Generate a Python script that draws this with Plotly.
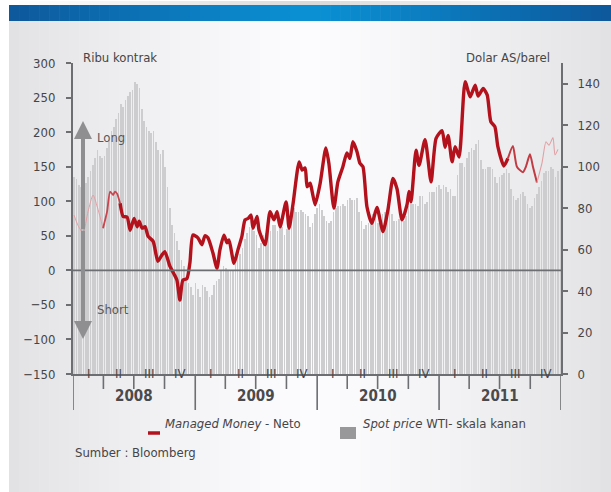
import plotly.graph_objects as go
import pandas as pd

# ---------------- DATA ----------------
# Weekly WTI spot price (USD/barrel), right axis
wti_2008 = [95, 94, 91, 90, 91, 92, 95, 98, 101, 104, 108, 105, 104, 105, 109, 113, 117,
            119, 123, 126, 130, 129, 132, 134, 136, 137, 141, 140, 138, 128, 122, 119, 117,
            116, 117, 112, 108, 106, 108, 100, 90, 80, 72, 68, 64, 60, 55, 52, 46, 44, 42, 38]
wti_2009 = [44, 41, 37, 43, 42, 40, 37, 38, 43, 45, 46, 50, 52, 51, 50, 50, 50, 53, 57, 58,
            61, 65, 68, 71, 70, 69, 67, 61, 63, 67, 68, 70, 69, 72, 72, 69, 71, 71, 67, 70,
            72, 77, 80, 78, 78, 79, 78, 77, 76, 71, 73, 77]
wti_2010 = [80, 82, 79, 76, 74, 73, 74, 78, 80, 81, 81, 82, 81, 84, 85, 84, 84, 85, 78, 74,
            70, 72, 73, 74, 77, 78, 73, 76, 77, 78, 79, 81, 77, 74, 74, 75, 76, 74, 76, 81,
            82, 82, 82, 81, 86, 86, 82, 83, 88, 88, 88, 90, 91]
wti_2011 = [89, 91, 90, 88, 89, 86, 86, 96, 102, 102, 100, 104, 107, 109, 108, 111, 113,
            103, 99, 99, 100, 100, 99, 95, 92, 95, 96, 97, 99, 97, 89, 86, 84, 85, 87, 88,
            86, 82, 80, 81, 85, 87, 90, 93, 97, 98, 98, 100, 99, 95, 98, 99]
wti = wti_2008 + wti_2009 + wti_2010 + wti_2011
wti_dates = pd.date_range("2008-01-04", periods=len(wti), freq="W-FRI")

# Managed Money net position (thousand contracts), left axis; day offset from 2008-01-01
mm_day = [3, 15, 30, 45, 60, 75, 90, 102, 111, 120, 126, 132, 141, 150, 162, 171, 183, 192,
          198, 207, 216, 225, 240, 254, 266, 275, 290, 302, 311, 320, 329, 341, 350, 359,
          374, 386, 395, 404, 419, 431, 440, 452, 461, 467, 482, 494, 506, 515, 524, 533,
          539, 551, 557, 575, 590, 602, 611, 620, 638, 647, 659, 677, 686, 695, 701, 710,
          716, 725, 740, 757, 766, 781, 793, 808, 820, 829, 838, 850, 859, 868, 880, 895,
          910, 928, 943, 958, 970, 985, 1000, 1006, 1012, 1027, 1036, 1054, 1072, 1087,
          1105, 1114, 1123, 1135, 1144, 1156, 1174, 1189, 1204, 1213, 1228, 1240, 1251,
          1263, 1272, 1290, 1302, 1317, 1329, 1347, 1356, 1368, 1377, 1389, 1404, 1416,
          1425, 1437, 1443, 1452]
mm_val = [80, 65, 54, 85, 109, 88, 61, 85, 114, 109, 114, 111, 97, 78, 77, 58, 75, 63,
          71, 61, 63, 49, 42, 13, 22, 27, 6, -5, -14, -43, -14, -12, 11, 51,
          47, 37, 50, 47, 25, 3, 30, 51, 40, 44, 10, 30, 50, 73, 75, 80,
          61, 78, 58, 37, 85, 73, 85, 63, 99, 61, 97, 157, 145, 148, 121, 126,
          114, 95, 126, 177, 155, 90, 128, 150, 170, 162, 186, 172, 155, 150, 92, 68,
          91, 56, 88, 133, 118, 73, 95, 114, 99, 174, 152, 189, 128, 191,
          202, 178, 195, 157, 179, 164, 273, 251, 268, 252, 263, 254, 215,
          208, 179, 151, 162, 180, 150, 142, 150, 168, 150, 127, 155, 186,
          181, 192, 167, 175]
mm_dates = pd.Timestamp("2008-01-01") + pd.to_timedelta(mm_day, unit="D")

years = ["2008", "2009", "2010", "2011"]
quarters = ["I", "II", "III", "IV"]
left_ticks = [-150, -100, -50, 0, 50, 100, 150, 200, 250, 300]
right_ticks = [0, 20, 40, 60, 80, 100, 120, 140]

# ---------------- STYLE ----------------
FONT = "DejaVu Sans Condensed, Liberation Sans Narrow, Roboto Condensed, Liberation Sans, sans-serif"
AXC = "#6d6e71"
TXT = "#454547"
W, H = 611, 492
L, R, T, B = 73, 50, 63, 118
PW, PH = W - L - R, H - T - B


def xp(px):
    return (px - L) / PW


def yp(py):
    return (H - B - py) / PH


fig = go.Figure()

# spot price bars (primary y = right axis)
fig.add_trace(go.Bar(x=wti_dates, y=wti, marker=dict(color="#cdcdcf", line=dict(width=0)),
                     width=2.0 * 86400000, yaxis="y", showlegend=False, hoverinfo="skip"))

# managed money line in segments (thin faded ends)
segments = [(0, 90, 1.0, "#e3a0a4"), (90, 141, 1.8, "#c8454d"), (141, 1302, 3.4, "#b3121c"),
            (1302, 1389, 2.0, "#c23a42"), (1389, 1460, 1.1, "#e0a0a4")]
for a, b, w, c in segments:
    idx = [i for i, d in enumerate(mm_day) if a <= d <= b]
    fig.add_trace(go.Scatter(x=[mm_dates[i] for i in idx], y=[mm_val[i] for i in idx],
                             mode="lines", line=dict(color=c, width=w, shape="spline", smoothing=0.6),
                             yaxis="y2", showlegend=False, hoverinfo="skip"))

shapes = []
# background gradient
N = 60
x_start, x_end = 9, W
sw = (x_end - x_start) / N
for i in range(N):
    cx = x_start + (i + 0.5) * sw
    t = min(1.0, abs(cx - 310) / 300)
    g = int(round(252 - (252 - 226) * t ** 1.3))
    shapes.append(dict(type="rect", xref="paper", yref="paper", layer="below",
                       x0=xp(x_start + i * sw), x1=xp(x_start + (i + 1) * sw + 0.6),
                       y0=yp(H), y1=yp(21), fillcolor=f"rgb({g},{g},{g + 2})", line=dict(width=0)))
    r = int(round(10 + (13 - 10) * t))
    gg = int(round(145 - (145 - 88) * t ** 1.1))
    bb = int(round(212 - (212 - 155) * t ** 1.1))
    shapes.append(dict(type="rect", xref="paper", yref="paper", layer="below",
                       x0=xp(x_start + i * sw), x1=xp(x_start + (i + 1) * sw + 0.6),
                       y0=yp(21), y1=yp(5), fillcolor=f"rgb({r},{gg},{bb})", line=dict(width=0)))
    sh = int(round(215 + (255 - 215) * t ** 0.8))
    shapes.append(dict(type="rect", xref="paper", yref="paper", layer="below",
                       x0=xp(x_start + i * sw), x1=xp(x_start + (i + 1) * sw + 0.6),
                       y0=yp(5), y1=yp(1), fillcolor=f"rgb({sh},{sh},{sh})", line=dict(width=0)))

# zero line (left axis)
shapes.append(dict(type="line", xref="paper", yref="y2", x0=0, x1=1, y0=0, y1=0,
                   line=dict(color=AXC, width=1.6), layer="above"))

# quarter ticks and year separators
for yi, yr in enumerate(range(2008, 2012)):
    for q in range(4):
        d = pd.Timestamp(year=yr, month=1 + 3 * q, day=1)
        y1 = yp(410) if q == 0 else yp(389)
        shapes.append(dict(type="line", xref="x", yref="paper", x0=d, x1=d, y0=0, y1=y1,
                           line=dict(color=AXC, width=1.6)))
end = pd.Timestamp("2012-01-01")
shapes.append(dict(type="line", xref="x", yref="paper", x0=end, x1=end, y0=0, y1=yp(410),
                   line=dict(color=AXC, width=1.6)))

# legend symbols
shapes.append(dict(type="line", xref="paper", yref="paper", x0=xp(148), x1=xp(160),
                   y0=yp(433), y1=yp(433), line=dict(color="#b3121c", width=3.5)))
shapes.append(dict(type="rect", xref="paper", yref="paper", x0=xp(340), x1=xp(356),
                   y0=yp(439), y1=yp(427), fillcolor="#98989b", line=dict(width=0)))

annotations = []
for yi, yr in enumerate(range(2008, 2012)):
    for q in range(4):
        mid = pd.Timestamp(year=yr, month=1 + 3 * q, day=1) + pd.Timedelta(days=45)
        annotations.append(dict(x=mid, y=yp(383), xref="x", yref="paper", text=quarters[q],
                                showarrow=False, font=dict(family=FONT, size=13, color=TXT)))
    annotations.append(dict(x=pd.Timestamp(year=yr, month=7, day=2), y=yp(407), xref="x", yref="paper",
                            text=f"<b>{years[yi]}</b>", showarrow=False,
                            font=dict(family=FONT, size=15, color="#4a4a4c")))

annotations += [
    dict(x=xp(81), y=yp(48), xref="paper", yref="paper", text="Ribu kontrak", showarrow=False,
         xanchor="left", font=dict(family=FONT, size=13, color=TXT)),
    dict(x=xp(552), y=yp(48), xref="paper", yref="paper", text="Dolar AS/barel", showarrow=False,
         xanchor="right", font=dict(family=FONT, size=13, color=TXT)),
    dict(x=xp(163), y=yp(433), xref="paper", yref="paper", text="<i>Managed Money</i> - Neto",
         showarrow=False, xanchor="left", font=dict(family=FONT, size=13, color=TXT)),
    dict(x=xp(361), y=yp(433), xref="paper", yref="paper", text="<i>Spot price</i> WTI- skala kanan",
         showarrow=False, xanchor="left", font=dict(family=FONT, size=13, color=TXT)),
    dict(x=xp(73), y=yp(462), xref="paper", yref="paper", text="Sumber : Bloomberg",
         showarrow=False, xanchor="left", font=dict(family=FONT, size=13, color=TXT)),
    dict(x=xp(95), y=yp(128), xref="paper", yref="paper", text="Long",
         showarrow=False, xanchor="left", font=dict(family=FONT, size=13, color="#58585a")),
    dict(x=xp(95), y=yp(319), xref="paper", yref="paper", text="Short",
         showarrow=False, xanchor="left", font=dict(family=FONT, size=13, color="#58585a")),
    # double arrow
    dict(x=xp(83), y=yp(121), xref="paper", yref="paper", ax=0, ay=110, text="", showarrow=True,
         arrowhead=2, arrowsize=0.9, arrowwidth=4, arrowcolor="#8f8f92"),
    dict(x=xp(83), y=yp(339), xref="paper", yref="paper", ax=0, ay=-110, text="", showarrow=True,
         arrowhead=2, arrowsize=0.9, arrowwidth=4, arrowcolor="#8f8f92"),
]

fig.update_layout(
    width=W, height=H, margin=dict(l=L, r=R, t=T, b=B, pad=0),
    paper_bgcolor="white", plot_bgcolor="rgba(0,0,0,0)",
    showlegend=False, bargap=0,
    font=dict(family=FONT, color=TXT),
    xaxis=dict(type="date", range=["2008-01-01", "2012-01-01"], showgrid=False, zeroline=False,
               showline=True, linecolor=AXC, linewidth=2, showticklabels=False, ticks=""),
    yaxis=dict(range=[0, 150], side="right", tickvals=right_ticks, ticks="outside", ticklen=5,
               tickwidth=1.5, tickcolor=AXC, showline=True, linecolor=AXC, linewidth=2,
               showgrid=False, zeroline=False, ticklabelstandoff=7,
               tickfont=dict(family=FONT, size=13, color=TXT)),
    yaxis2=dict(range=[-150, 300], overlaying="y", side="left", tickvals=left_ticks,
                ticks="outside", ticklen=5, tickwidth=1.5, tickcolor=AXC, showline=True,
                linecolor=AXC, linewidth=2, showgrid=False, zeroline=False, ticklabelstandoff=8,
                tickfont=dict(family=FONT, size=13, color=TXT)),
    shapes=shapes, annotations=annotations,
)

fig.write_html("out.html")
